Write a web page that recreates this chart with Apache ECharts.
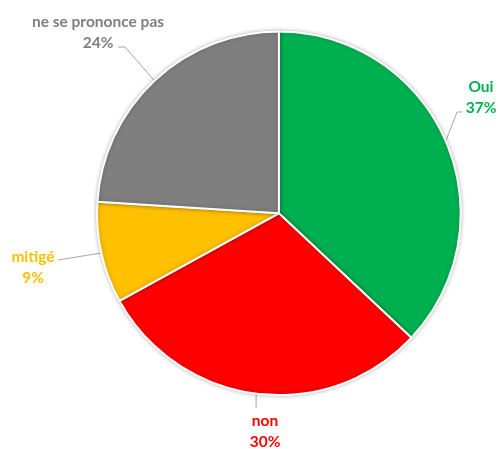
<!DOCTYPE html>
<html><head><meta charset="utf-8">
<script src="https://cdn.jsdelivr.net/npm/echarts@6/dist/echarts.min.js"></script>
<style>html,body{margin:0;padding:0;background:#fff}#c{width:498px;height:449px}</style>
</head><body><div id="c"></div>
<script>
var categories = ['Oui', 'non', 'mitigé', 'ne se prononce pas'];
var values = [37, 30, 9, 24];
var colors = ['#00B050', '#FF0000', '#FFC000', '#7F7F7F'];

// label block centres and leader-line end offsets (layout only)
var labelPos = [[481, 97], [265, 431], [33, 267], [98, 32]];
var lineEnd = [[-19, 15], [null, -23], [25, -7], [20, 15]];
var lineElbow = [[-5, 0], [0, 0], [0, 0], [7, 0]];

var chart = echarts.init(document.getElementById('c'));
var data = categories.map(function (n, i) {
  return { name: n, value: values[i], itemStyle: { color: colors[i] }, label: { color: colors[i] } };
});
chart.setOption({
  animation: false,
  series: [{
    type: 'pie',
    center: ['56%', '47.5%'],
    radius: '81%',
    startAngle: 90,
    clockwise: true,
    data: data,
    itemStyle: { borderColor: '#fff', borderWidth: 2, shadowBlur: 4, shadowColor: 'rgba(0,0,0,0.25)' },
    label: {
      show: true, position: 'outside', overflow: 'none',
      formatter: '{b}\n{c}%', align: 'center',
      fontFamily: 'Lato', fontWeight: 'bold', fontSize: 15.5, lineHeight: 21
    },
    labelLine: { show: true, length: 15, length2: 8, lineStyle: { color: '#A6A6A6', width: 1 } },
    labelLayout: function (p) {
      var i = p.dataIndex;
      var q = labelPos[i];
      var res = { x: q[0], y: q[1], align: 'center', verticalAlign: 'middle' };
      if (p.labelLinePoints && p.labelLinePoints.length) {
        var s = p.labelLinePoints[0];
        var e = [lineEnd[i][0] == null ? s[0] : q[0] + lineEnd[i][0], q[1] + lineEnd[i][1]];
        var m = [e[0] + lineElbow[i][0], e[1] + lineElbow[i][1]];
        res.labelLinePoints = [[s[0], s[1]], m, e];
      }
      return res;
    }
  }]
});
</script></body></html>
